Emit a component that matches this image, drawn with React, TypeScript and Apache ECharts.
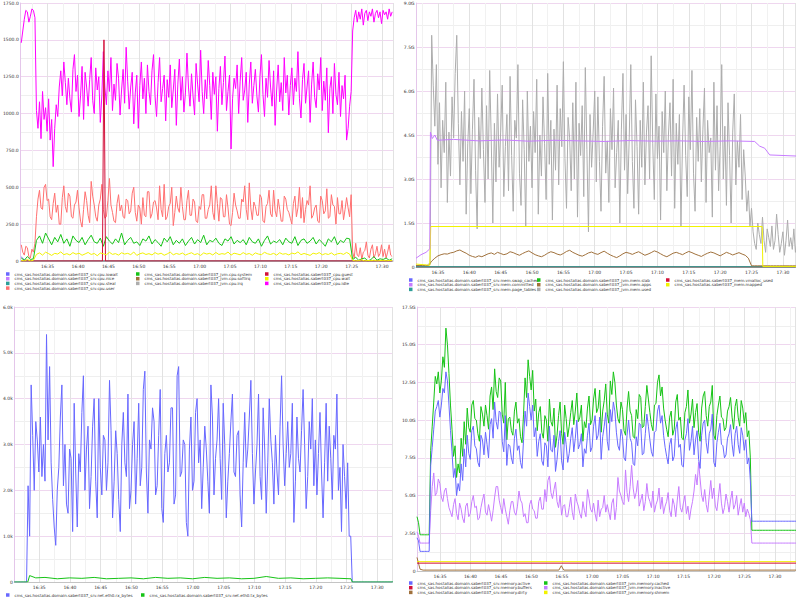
import React, { useEffect, useRef } from "react";
import * as echarts from "echarts";

// time in minutes since midnight
const tm = (h: number, m: number, s: number) => h * 60 + m + s / 60;

// ---------- Top-left panel (CPU %) ----------
const tlStart = tm(16, 30, 40);
const tlMin = tm(16, 30, 30);
const tlMax = tm(17, 31, 48);
const tlYTicks = { max: 1750, interval: 250 };
// 15 s samples
const tlMagenta = [1480, 1560, 1640, 1700, 1690, 1620, 1660, 1710, 1700, 1650,
  1020,
  900, 1080, 830, 1150, 960, 1040, 880, 1100, 820, 960,
  640, 900, 1060, 980, 1180, 1290, 1120, 1350, 1210, 1060,
  1240, 1100, 1010, 1300, 1400, 1150, 1260, 980, 1120, 1320,
  960, 1280, 1180, 1050, 1230, 1380, 1090, 1000, 1310, 1160,
  1250, 940, 1120, 1420, 1180, 1060, 1290, 1150, 1380, 1020,
  1200, 1090, 1340, 1240, 990, 1160, 1300, 1070, 1450, 1220,
  1030, 1180, 1280, 930, 1140, 1260, 900, 1190, 1350, 1100,
  1240, 1000, 1330, 1150, 1060, 1290, 1400, 1120, 980, 1210,
  1380, 1080, 1170, 1260, 950, 1230, 1110, 1330, 1040, 1160,
  1300, 920, 1200, 1370, 1090, 1250, 1010, 1140, 1410, 1180,
  1050, 1270, 1120, 990, 1340, 1200, 1080, 1430, 1150, 1000,
  1230, 1100, 1360, 1190, 960, 1280, 1130, 1250, 880, 1170,
  1320, 1060, 1210, 1390, 1020, 1150, 1260, 760, 1100, 1240,
  1170, 1330, 1000, 1220, 1380, 1090, 1160, 1280, 940, 1200,
  1350, 1070, 1190, 1300, 1120, 1010, 1250, 1400, 1130, 980,
  1240, 1110, 1360, 1180, 1050, 1290, 920, 1160, 1330, 1080,
  1210, 1020, 1380, 1140, 1260, 990, 1190, 1310, 1060, 1240,
  1150, 1420, 1100, 970, 1230, 1340, 1070, 1180, 1290, 940,
  1200, 1350, 1110, 1040, 1270, 1160, 1380, 1020, 1220, 1090,
  1310, 870, 1170, 1250, 1000, 1340, 1130, 1060, 1280, 980,
  1190, 1100, 1260, 820, 900, 1050, 1150,
  1560, 1650, 1700, 1620, 1690, 1640, 1710, 1600, 1680, 1700,
  1630, 1690, 1660, 1710, 1620, 1680, 1700, 1650, 1690, 1610,
  1700, 1670, 1690, 1640, 1710, 1660, 1690];
const tlSalmon = [110, 60, 40, 100, 90, 30, 20, 80, 60, 120,
  300, 420, 480, 360, 350, 500, 520, 410, 420, 300,
  280, 390, 460, 330, 380, 250, 250, 430, 510, 370,
  330, 460, 440, 300, 290, 380, 400, 480, 360, 270,
  230, 350, 470, 410, 310, 260, 540, 440, 380, 300,
  270, 380, 420, 520, 350, 290, 300, 410, 560, 380,
  330, 270, 260, 390, 450, 340, 380, 300, 290, 420,
  410, 320, 340, 460, 500, 330, 270, 380, 360, 250,
  430, 310, 300, 470, 470, 290, 320, 400, 410, 360,
  280, 510, 350, 300, 520, 280, 300, 370, 390, 500,
  240, 330, 440, 360, 330, 500, 370, 280, 280, 410,
  480, 310, 310, 420, 400, 270, 260, 370, 350, 450,
  450, 290, 290, 350, 380, 510, 330, 280, 510, 390,
  270, 430, 420, 300, 300, 450, 360, 250, 240, 330,
  460, 380, 340, 290, 290, 420, 400, 510, 350, 280,
  530, 360, 280, 400, 370, 310, 310, 450, 430, 270,
  260, 370, 390, 480, 320, 300, 480, 340, 300, 420,
  350, 270, 270, 440, 420, 350, 330, 290, 250, 390,
  440, 300, 360, 500, 290, 430, 260, 350, 410, 380,
  510, 290, 310, 360, 380, 270, 260, 440, 410, 320,
  340, 490, 290, 300, 450, 380, 370, 250, 430, 320,
  320, 410, 280, 350, 430, 360, 300, 450,
  60, 20, 120, 40, 30, 90, 10, 60, 70, 130,
  40, 20, 80, 110, 20, 50, 100, 30, 50, 110,
  30, 80, 20, 60, 110, 40, 30];
// 30 s samples
const tlGreen = [20, 5, 30, 10, 15,
  140, 170, 120, 190, 150, 110, 160, 130, 180, 120,
  150, 100, 170, 140, 125, 160, 110, 145, 175, 130,
  120, 155, 100, 165, 135, 115, 150, 125, 190, 110,
  140, 160, 120, 130, 105, 150, 135, 170, 115, 145,
  125, 100, 155, 130, 165, 110, 140, 120, 150, 105,
  135, 160, 115, 145, 125, 175, 110, 140, 130, 155,
  120, 105, 150, 135, 165, 115, 140, 125, 145, 110,
  160, 130, 120, 150, 100, 140, 170, 115, 135, 125,
  145, 110, 155, 130, 120, 165, 105, 140, 150, 120,
  135, 160, 115, 145, 125, 100, 150, 130, 165, 110,
  140, 125, 155, 150,
  10, 25, 5, 15, 20, 0, 10, 30, 5, 15, 10, 20, 5, 15];
const tlYellow = [5, 0, 10, 0, 5,
  45, 55, 40, 60, 50, 38, 52, 47, 62, 43,
  50, 41, 57, 46, 53, 39, 48, 58, 44, 51,
  36, 54, 49, 42, 59, 45, 50, 40, 56, 47,
  52, 43, 61, 38, 49, 55, 44, 50, 41, 57,
  46, 53, 39, 48, 60, 42, 51, 45, 54, 40,
  49, 56, 43, 50, 38, 55, 47, 52, 41, 58,
  44, 50, 46, 61, 40, 53, 48, 42, 57, 45,
  51, 39, 55, 47, 43, 59, 49, 44, 52, 40,
  56, 46, 50, 41, 54, 48, 62, 43, 51, 45,
  38, 53, 47, 57, 42, 50, 44, 55, 40, 49,
  52, 45, 58, 47,
  5, 0, 3, 8, 0, 4, 2, 6, 0, 3, 5, 1, 4, 2];
// [minutes from panel start, value]
const tlBlue = [[0, 28], [0.5, 8], [1, 3], [61, 3]];
const tlZero = [[0, 0], [61, 0]];
const tlRed = [[0, 0], [13.35, 0], [13.6, 1500], [13.85, 0], [61, 0]];

// ---------- Top-right panel (G) ----------
const trStart = tm(16, 31, 30);
const trMin = tm(16, 31, 30);
const trMax = tm(17, 31, 56);
const trYTicks = { max: 9, interval: 1.5 };
// 15 s samples
const trGray = [0.05, 0.05, 0.06, 0.05, 0.08, 0.05, 0.06, 0.05, 0.1, 0.08,
  7.9, 6.2, 4.8, 6.9, 3.5, 5.6, 2.7, 5.0, 3.9, 6.3,
  2.2, 4.6, 3.1, 5.8, 4.4, 6.6, 7.9, 4.9, 2.8, 5.3,
  3.6, 6.0, 1.8, 4.2, 5.4, 2.5, 4.7, 6.4, 3.3, 1.3,
  5.1, 3.7, 6.1, 4.0, 2.2, 5.5, 3.0, 6.7, 4.3, 1.5,
  4.9, 2.9, 5.9, 3.4, 4.6, 6.2, 2.4, 4.1, 5.2, 2.6,
  6.5, 3.8, 1.9, 5.0, 4.4, 6.9, 3.2, 2.1, 5.7, 4.0,
  1.4, 6.0, 3.6, 4.8, 2.7, 5.3, 3.9, 6.4, 1.8, 4.5,
  3.1, 5.8, 4.2, 2.3, 6.6, 3.5, 5.0, 1.6, 4.7, 3.3,
  6.2, 2.8, 5.4, 4.1, 7.0, 3.7, 2.0, 5.1, 4.4, 2.6,
  5.6, 3.0, 6.3, 1.7, 4.9, 3.8, 5.5, 2.4, 6.8, 4.0,
  1.2, 5.2, 3.4, 4.6, 6.0, 2.9, 5.8, 3.6, 1.9, 4.8,
  6.5, 3.2, 4.3, 2.2, 5.4, 4.0, 6.1, 2.7, 3.9, 5.0,
  1.5, 4.7, 6.6, 3.3, 5.2, 2.5, 4.4, 6.9, 3.6, 2.0,
  5.7, 4.1, 1.8, 5.0, 3.4, 6.3, 2.8, 4.6, 5.5, 3.0,
  7.2, 4.2, 2.3, 5.9, 3.7, 4.8, 1.6, 5.3, 3.9, 6.0,
  2.6, 4.5, 5.6, 3.1, 6.4, 2.0, 4.9, 3.5, 5.2, 1.4,
  4.3, 6.2, 3.8, 2.4, 5.8, 4.0, 6.7, 3.2, 1.9, 5.1,
  3.6, 5.4, 2.9, 4.7, 6.1, 2.2, 5.0, 3.9, 4.4, 1.7,
  6.3, 3.3, 5.5, 2.6, 4.1, 6.9, 3.0, 4.8, 2.1, 5.6,
  3.8, 1.5, 4.6, 5.9, 2.8, 4.3, 3.4, 5.2, 2.3, 4.0,
  3.1, 1.9, 2.6, 1.4, 2.0,
  1.2, 0.8, 0.6, 1.5, 1.1, 0.8, 1.7, 0.9, 0.5, 1.3,
  1.0, 0.7, 1.4, 0.6, 0.9, 1.8, 1.1, 0.5, 0.8, 1.2,
  0.4, 0.9, 1.6, 0.7, 1.0, 0.6, 1.3, 0.5, 0.9, 0.7];
// 30 s samples
const trBrown = [0.05, 0.05, 0.05, 0.05, 0.05,
  0.20, 0.30, 0.38, 0.42, 0.45, 0.44, 0.48, 0.50, 0.55, 0.58,
  0.52, 0.47, 0.40, 0.36, 0.33, 0.38, 0.35, 0.40, 0.45, 0.48,
  0.43, 0.50, 0.46, 0.42, 0.45, 0.52, 0.49, 0.44, 0.40, 0.46,
  0.51, 0.55, 0.48, 0.42, 0.38, 0.35, 0.40, 0.47, 0.52, 0.49,
  0.44, 0.41, 0.46, 0.53, 0.57, 0.50, 0.45, 0.40, 0.37, 0.42,
  0.48, 0.51, 0.46, 0.43, 0.49, 0.54, 0.47, 0.41, 0.36, 0.32,
  0.38, 0.45, 0.50, 0.47, 0.43, 0.48, 0.52, 0.46, 0.40, 0.44,
  0.49, 0.55, 0.51, 0.45, 0.39, 0.35, 0.41, 0.47, 0.50, 0.46,
  0.42, 0.48, 0.53, 0.49, 0.44, 0.40, 0.36, 0.42, 0.47, 0.51,
  0.48, 0.43, 0.38, 0.44, 0.50, 0.46, 0.41, 0.45, 0.49, 0.44,
  0.40, 0.30,
  0.04, 0.04, 0.04, 0.04, 0.04, 0.04, 0.04, 0.04, 0.04, 0.04, 0.04, 0.04, 0.04, 0.04, 0.04, 0.04];
const trPurple = [[0, 0.3], [0.8, 0.42], [1.6, 0.5], [2.2, 0.62], [2.3, 4.6], [2.6, 4.38], [3.0, 4.5], [3.4, 4.32],
  [6, 4.35], [10, 4.3], [14, 4.33], [18, 4.29], [22, 4.32], [26, 4.3], [30, 4.28], [34, 4.31], [38, 4.29],
  [42, 4.3], [46, 4.28], [50, 4.3], [54, 4.28], [54.8, 4.12], [55.6, 4.05], [56.4, 3.82], [61, 3.78]];
const trYellow = [[0, 0.1], [2.2, 0.06], [2.35, 1.38], [55.2, 1.38], [55.3, 0.02], [61, 0.02]];
const trTeal = [[0, 0.01], [61, 0.01]];
const trZero = [[0, 0], [61, 0]];

// ---------- Bottom-left panel (k) ----------
const blStart = tm(16, 30, 56);
const blMin = tm(16, 30, 56);
const blMax = tm(17, 32, 24);
const blYTicks = { max: 6, interval: 1 };
// 15 s samples
const blBlue = [0, 0, 0, 0, 0, 0, 0, 0, 0,
  2.1, 1.0, 4.3, 3.2, 2.0, 3.5, 3.1, 2.4, 3.6, 2.3,
  3.0, 2.2, 5.4, 3.1, 4.7, 2.6, 1.8, 1.2, 0.8, 2.0,
  2.5, 3.6, 4.3, 2.1, 3.0, 1.7, 1.5, 2.9, 2.7, 1.1,
  3.9, 2.4, 1.2, 2.8, 2.4, 3.7, 4.5, 2.0, 2.9, 3.4,
  1.6, 2.3, 3.4, 4.0, 2.2, 1.4, 4.0, 2.5, 1.9, 3.2,
  3.1, 2.0, 2.6, 4.4, 3.3, 1.4, 2.2, 3.3, 2.8, 1.8,
  1.1, 3.0, 3.7, 2.6, 2.3, 4.1, 1.6, 2.0, 3.0, 3.5,
  1.7, 2.7, 3.9, 2.1, 2.5, 4.2, 4.6, 2.4, 1.5, 3.1,
  2.9, 3.8, 3.5, 1.9, 2.1, 3.2, 4.2, 1.6, 1.3, 2.8,
  3.2, 2.4, 2.6, 3.8, 3.8, 1.7, 1.9, 4.5, 4.7, 2.3,
  2.4, 3.1, 3.0, 1.3, 1.0, 2.9, 3.6, 2.0, 2.2, 3.7,
  4.0, 2.6, 3.1, 1.6, 2.5, 3.4, 2.9, 2.2, 1.5, 4.3,
  3.6, 1.9, 2.7, 3.1, 4.0, 2.7, 1.8, 3.9, 3.0, 1.4,
  2.2, 2.8, 3.5, 4.1, 2.4, 2.3, 3.2, 3.3, 1.9, 1.2,
  2.6, 3.7, 2.5, 2.9, 3.6, 4.4, 2.8, 1.7, 2.4, 3.0,
  4.1, 2.3, 1.8, 3.8, 2.9, 1.5, 2.6, 4.0, 3.1, 2.6,
  1.7, 3.2, 2.4, 1.9, 3.4, 4.5, 3.0, 2.1, 2.8, 3.5,
  2.5, 2.8, 3.9, 1.3, 2.2, 3.6, 2.7, 2.4, 3.3, 4.2,
  3.0, 1.6, 2.3, 3.5, 2.9, 4.0, 2.1, 3.1, 1.9, 2.8,
  3.7, 2.4, 1.4, 2.6, 3.9, 2.2, 3.4, 2.7, 1.8, 3.2,
  2.9, 4.1, 2.0, 2.5, 1.1, 3.0, 2.3, 1.6, 2.6, 1.0,
  1.0,
  0, 0, 0, 0, 0, 0, 0, 0, 0, 0, 0, 0, 0, 0, 0,
  0, 0, 0, 0, 0, 0, 0, 0, 0, 0, 0, 0, 0, 0, 0];
const blGreen = [[0, 0], [2.2, 0], [2.5, 0.14], [3.5, 0.09], [5, 0.1], [7, 0.07], [9, 0.09], [11, 0.08], [13, 0.1],
  [15, 0.07], [17, 0.08], [19, 0.09], [21, 0.07], [23, 0.1], [25, 0.08], [27, 0.09], [29, 0.07], [31, 0.1],
  [33, 0.08], [35, 0.09], [37, 0.07], [39, 0.08], [41, 0.12], [43, 0.08], [45, 0.09], [47, 0.07], [49, 0.08],
  [51, 0.09], [53, 0.08], [54.8, 0.07], [55, 0], [62, 0]];

// ---------- Bottom-right panel (G) ----------
const brStart = tm(16, 31, 13);
const brMin = tm(16, 31, 13);
const brMax = tm(17, 33, 18);
const brYTicks = { max: 17.5, interval: 2.5 };
// 15 s samples
const brGreen = [3.6, 3.2, 2.4, 2.4, 2.4, 2.4, 2.4, 2.4, 2.4,
  8.0, 9.6, 11.2, 12.9, 12.4, 13.2, 11.8, 12.6, 14.2, 13.5,
  16.1, 15.0, 13.1, 11.0, 9.4, 7.6, 8.3, 6.2, 7.1, 6.5,
  8.8, 7.6, 9.9, 8.4, 10.8, 9.5, 9.2, 11.0, 11.3, 10.1,
  10.0, 9.1, 8.6, 10.9, 10.4, 9.6, 11.0, 10.3, 9.4, 11.6,
  12.2, 10.7, 13.4, 11.9, 11.5, 12.8, 12.6, 10.4, 9.8, 12.5,
  8.7, 10.1, 10.2, 9.3, 9.0, 10.6, 11.2, 9.8, 10.1, 8.9,
  8.5, 10.4, 12.8, 11.5, 14.0, 12.9, 12.0, 13.3, 10.6, 11.4,
  9.3, 10.5, 10.9, 9.2, 8.8, 10.3, 10.0, 8.6, 11.4, 9.9,
  9.6, 10.8, 8.2, 9.0, 10.3, 11.2, 9.1, 8.4, 11.0, 10.1,
  8.9, 9.6, 10.5, 11.3, 9.7, 10.6, 11.8, 9.9, 10.2, 11.0,
  8.6, 9.9, 9.5, 10.8, 11.6, 9.7, 10.0, 11.4, 12.1, 10.5,
  10.8, 12.0, 9.2, 10.6, 11.3, 12.4, 10.4, 9.8, 12.6, 11.7,
  13.2, 12.5, 11.0, 10.1, 9.8, 11.2, 10.7, 9.3, 9.0, 10.8,
  11.9, 10.6, 10.3, 8.9, 8.8, 10.7, 10.1, 11.7, 11.5, 9.5,
  9.6, 10.9, 12.3, 11.4, 10.5, 9.7, 9.3, 11.0, 11.1, 12.5,
  13.0, 11.6, 12.2, 10.8, 10.0, 9.4, 8.9, 10.2, 10.6, 9.0,
  9.4, 11.2, 11.7, 10.0, 10.2, 8.8, 8.7, 10.5, 10.9, 12.0,
  9.8, 10.4, 11.4, 9.5, 10.5, 11.1, 9.2, 8.6, 10.8, 11.6,
  11.9, 10.3, 9.6, 10.9, 11.2, 12.3, 9.0, 8.7, 10.3, 11.0,
  11.6, 10.2, 10.1, 9.3, 9.5, 10.6, 10.9, 11.5, 10.2, 9.4,
  10.9, 11.4, 10.2, 9.6, 11.3, 10.8, 9.8, 10.5, 8.9, 9.3,
  7.5,
  2.7, 2.7, 2.7, 2.7, 2.7, 2.7, 2.7, 2.7, 2.7, 2.7, 2.7, 2.7, 2.7, 2.7, 2.7, 2.7,
  2.7, 2.7, 2.7, 2.7, 2.7, 2.7, 2.7, 2.7, 2.7, 2.7, 2.7, 2.7, 2.7, 2.7, 2.7, 2.7];
const brBlue = [2.2, 2.0, 1.3, 1.3, 1.3, 1.3, 1.3, 1.3, 1.3,
  7.0, 8.2, 9.4, 10.6, 10.9, 11.3, 10.2, 11.0, 12.1, 11.8,
  13.2, 12.6, 11.0, 9.3, 7.9, 6.2, 6.8, 5.0, 5.8, 5.3,
  7.1, 6.0, 8.1, 6.9, 9.0, 7.8, 7.4, 9.3, 9.6, 8.3,
  8.1, 7.2, 6.9, 9.0, 8.7, 7.7, 9.2, 8.4, 7.5, 9.7,
  10.1, 8.8, 11.2, 9.9, 9.4, 10.6, 10.5, 8.6, 7.9, 10.3,
  7.0, 8.4, 8.3, 7.5, 7.1, 8.8, 9.4, 8.0, 8.3, 7.2,
  6.8, 8.7, 10.6, 9.6, 11.8, 10.9, 10.0, 11.0, 8.9, 9.5,
  7.6, 8.6, 9.1, 7.3, 7.0, 8.5, 8.3, 6.9, 9.6, 8.0,
  7.9, 9.0, 6.6, 7.4, 8.6, 9.3, 7.3, 6.7, 9.2, 8.4,
  7.2, 7.8, 8.8, 9.5, 7.9, 8.8, 10.0, 8.1, 8.4, 9.1,
  6.9, 8.1, 7.8, 9.0, 9.8, 7.9, 8.2, 9.6, 10.3, 8.7,
  9.0, 10.2, 7.4, 8.9, 9.6, 10.5, 8.6, 8.0, 10.7, 9.9,
  11.2, 10.6, 9.2, 8.3, 8.0, 9.4, 8.9, 7.5, 7.3, 9.0,
  10.0, 8.8, 8.5, 7.1, 7.0, 8.9, 8.3, 9.8, 9.7, 7.7,
  7.8, 9.1, 10.4, 9.6, 8.7, 7.9, 7.6, 9.2, 9.3, 10.6,
  11.0, 9.8, 10.3, 9.0, 8.2, 7.6, 7.1, 8.4, 8.8, 7.3,
  7.6, 9.4, 9.9, 8.2, 8.4, 7.0, 6.9, 8.7, 9.1, 10.1,
  8.0, 8.6, 9.6, 7.7, 8.7, 9.3, 7.4, 6.8, 9.0, 9.8,
  10.0, 8.5, 7.8, 9.1, 9.4, 10.4, 7.2, 6.9, 8.5, 9.2,
  9.8, 8.4, 8.3, 7.5, 7.7, 8.8, 9.1, 9.7, 8.4, 7.6,
  9.1, 9.6, 8.4, 7.8, 9.5, 9.0, 8.0, 8.7, 7.1, 7.5,
  6.0,
  3.3, 3.3, 3.3, 3.3, 3.3, 3.3, 3.3, 3.3, 3.3, 3.3, 3.3, 3.3, 3.3, 3.3, 3.3, 3.3,
  3.3, 3.3, 3.3, 3.3, 3.3, 3.3, 3.3, 3.3, 3.3, 3.3, 3.3, 3.3, 3.3, 3.3, 3.3, 3.3];
const brPurple = [2.6, 2.3, 1.85, 1.85, 1.85, 1.85, 1.85, 1.85, 1.85,
  4.0, 5.6, 6.5, 5.0, 5.2, 6.1, 5.8, 4.9, 4.6, 5.3,
  5.5, 4.8, 4.2, 3.9, 3.6, 4.4, 4.8, 3.8, 3.4, 4.5,
  4.1, 3.5, 3.2, 4.3, 4.5, 3.6, 3.8, 4.6, 5.0, 4.2,
  4.3, 3.4, 3.5, 4.2, 4.7, 5.1, 3.9, 3.7, 4.4, 3.9,
  3.3, 4.0, 4.9, 5.6, 5.6, 4.7, 4.2, 3.8, 4.8, 4.1,
  3.6, 3.1, 4.0, 4.6, 4.6, 3.9, 3.7, 4.3, 5.3, 4.7,
  4.5, 3.6, 3.8, 3.2, 3.2, 4.4, 4.7, 4.1, 4.0, 3.5,
  3.5, 4.6, 4.9, 4.1, 4.1, 5.4, 4.6, 6.0, 6.3, 5.2,
  4.8, 5.4, 5.9, 4.6, 4.2, 5.0, 3.7, 4.3, 4.4, 3.6,
  3.6, 4.2, 4.9, 3.9, 3.4, 5.1, 4.6, 4.3, 3.8, 3.5,
  4.6, 4.0, 3.6, 5.4, 4.8, 4.1, 3.9, 4.5, 3.8, 3.3,
  4.7, 3.6, 4.1, 4.2, 5.0, 3.9, 4.4, 3.9, 3.4, 4.5,
  4.8, 3.4, 4.2, 6.2, 5.3, 5.0, 4.6, 4.4, 6.7, 5.2,
  4.6, 5.6, 7.0, 5.5, 4.8, 5.2, 6.0, 4.3, 4.7, 5.1,
  4.0, 4.6, 5.8, 4.9, 4.6, 4.2, 5.3, 3.9, 4.4, 4.7,
  5.5, 4.1, 4.9, 3.8, 4.3, 4.6, 5.2, 4.0, 3.6, 4.8,
  4.4, 3.6, 4.7, 5.6, 4.2, 3.9, 4.5, 5.0, 3.8, 4.3,
  3.4, 4.1, 4.6, 5.3, 6.4, 5.7, 7.2, 6.1, 5.0, 4.6,
  5.4, 4.4, 3.9, 5.0, 6.0, 4.8, 5.5, 4.3, 4.0, 4.9,
  5.8, 4.5, 3.8, 4.2, 5.1, 4.6, 3.9, 4.7, 5.3, 4.1,
  4.4, 5.0, 3.7, 4.3, 4.8, 3.9, 4.5, 3.6, 4.1, 3.8,
  3.4,
  1.85, 1.85, 1.85, 1.85, 1.85, 1.85, 1.85, 1.85, 1.85, 1.85, 1.85, 1.85, 1.85, 1.85, 1.85, 1.85,
  1.85, 1.85, 1.85, 1.85, 1.85, 1.85, 1.85, 1.85, 1.85, 1.85, 1.85, 1.85, 1.85, 1.85, 1.85, 1.85];
const brRed = [[0, 0.52], [63, 0.52]];
const brYellow = [[0, 0.62], [63, 0.62]];
const brBrown = [[0, 0.9], [0.5, 0.12], [1, 0.06], [23.3, 0.06], [23.7, 0.35], [24.1, 0.06], [63, 0.06]];

// ---------- names ----------
const tlNames = [
  "cms_sas.hostalias.domain.sabert037_srv.cpu.iowait",
  "cms_sas.hostalias.domain.sabert037_srv.cpu.nice",
  "cms_sas.hostalias.domain.sabert037_srv.cpu.steal",
  "cms_sas.hostalias.domain.sabert037_srv.cpu.user",
  "cms_sas.hostalias.domain.sabert037_jvm.cpu.system",
  "cms_sas.hostalias.domain.sabert037_jvm.cpu.softirq",
  "cms_sas.hostalias.domain.sabert037_jvm.cpu.irq",
  "cms_sas.hostalias.sabert037_cpu.guest",
  "cms_sas.hostalias.sabert037_cpu.wait",
  "cms_sas.hostalias.sabert037_cpu.idle",
];
const trNames = [
  "cms_sas.hostalias.domain.sabert037_srv.mem.swap_cached",
  "cms_sas.hostalias.domain.sabert037_srv.mem.committed",
  "cms_sas.hostalias.domain.sabert037_srv.mem.page_tables",
  "cms_sas.hostalias.domain.sabert037_jvm.mem.slab",
  "cms_sas.hostalias.domain.sabert037_jvm.mem.apps",
  "cms_sas.hostalias.domain.sabert037_jvm.mem.used",
  "cms_sas.hostalias.sabert037_mem.vmalloc_used",
  "cms_sas.hostalias.sabert037_mem.mapped",
];
const blNames = [
  "cms_sas.hostalias.domain.sabert037_srv.net.eth0.rx_bytes",
  "cms_sas.hostalias.domain.sabert037_srv.net.eth0.tx_bytes",
];
const brNames = [
  "cms_sas.hostalias.domain.sabert037_srv.memory.active",
  "cms_sas.hostalias.domain.sabert037_srv.memory.buffers",
  "cms_sas.hostalias.domain.sabert037_srv.memory.dirty",
  "cms_sas.hostalias.domain.sabert037_jvm.memory.cached",
  "cms_sas.hostalias.domain.sabert037_jvm.memory.inactive",
  "cms_sas.hostalias.domain.sabert037_jvm.memory.shmem",
];

const C = {
  blue: "#6868ff", purple: "#c77cff", teal: "#2e9e98", salmon: "#ff7070", green: "#16c316",
  brown: "#a0713c", gray: "#adadad", red: "#d3103a", yellow: "#f2f200", magenta: "#ff00ff",
};

const seq = (start: number, step: number, vals: number[]) => vals.map((v, i) => [start + i * step, v]);
const pts = (start: number, pairs: number[][]) => pairs.map(([m, v]) => [start + m, v]);
const Q = 0.25; // 15 s
const H = 0.5; // 30 s

const line = (name: string, color: string, g: number, data: number[][]) => ({
  type: "line", name, xAxisIndex: g, yAxisIndex: g, data, showSymbol: false, symbol: "none",
  lineStyle: { width: 1, color }, itemStyle: { color }, silent: true, clip: true,
  emphasis: { disabled: true }, animation: false,
});

const FONT = "DejaVu Sans";
const pad = (n: number) => (n < 10 ? "0" + n : "" + n);
const hhmm = (v: number) => {
  const t = Math.round(v);
  return pad(Math.floor(t / 60)) + ":" + pad(t % 60);
};

const xAxis = (g: number, min: number, max: number) => ({
  type: "value", gridIndex: g, min, max, minInterval: 5, maxInterval: 5, splitNumber: 12,
  axisLine: { show: true, onZero: false, lineStyle: { color: "#c4c4c4", width: 1 } },
  axisTick: { show: false },
  axisLabel: { fontSize: 4.5, color: "#333", margin: 3, formatter: hhmm, fontFamily: FONT,
    showMinLabel: false, showMaxLabel: false, hideOverlap: false },
  splitLine: { show: true, lineStyle: { color: "#e2e2e2", width: 1 } },
  minorTick: { show: false, splitNumber: 2 },
  minorSplitLine: { show: true, lineStyle: { color: "#f1f1f1", width: 1 } },
});

const yAxis = (g: number, t: { max: number; interval: number }, fmt: (v: number) => string) => ({
  type: "value", gridIndex: g, min: 0, max: t.max, interval: t.interval,
  axisLine: { show: true, lineStyle: { color: "#e4c6ea", width: 1 } },
  axisTick: { show: false },
  axisLabel: { fontSize: 4.5, color: "#333", margin: 1.5, formatter: fmt, fontFamily: FONT, showMaxLabel: true },
  splitLine: { show: true, lineStyle: { color: "#efd7ef", width: 1 } },
  minorTick: { show: false, splitNumber: 2 },
  minorSplitLine: { show: true, lineStyle: { color: "#efefef", width: 1 } },
});

const legend = (names: string[], left: number, top: number) => ({
  data: names, left, top, orient: "vertical", icon: "rect", itemWidth: 3.5, itemHeight: 3.5,
  itemGap: 0.7, padding: 0, selectedMode: false,
  textStyle: { fontSize: 4, lineHeight: 4, color: "#333", fontFamily: FONT },
});

export default function App() {
  const ref = useRef<HTMLDivElement>(null);
  useEffect(() => {
    const chart = echarts.init(ref.current!, null, { renderer: "svg" });
    const option = {
      animation: false,
      backgroundColor: "#ffffff",
      grid: [
        { left: 15, top: 3, width: 378, height: 258 },
        { left: 416, top: 3, width: 379, height: 264 },
        { left: 14, top: 307, width: 378, height: 275 },
        { left: 417, top: 307, width: 378, height: 264 },
      ],
      xAxis: [xAxis(0, tlMin, tlMax), xAxis(1, trMin, trMax), xAxis(2, blMin, blMax), xAxis(3, brMin, brMax)],
      yAxis: [
        yAxis(0, tlYTicks, (v: number) => (v === 0 ? "0" : v.toFixed(1))),
        yAxis(1, trYTicks, (v: number) => (v === 0 ? "0" : v.toFixed(1) + "G")),
        yAxis(2, blYTicks, (v: number) => (v === 0 ? "0" : v.toFixed(1) + "k")),
        yAxis(3, brYTicks, (v: number) => (v === 0 ? "0" : v.toFixed(1) + "G")),
      ],
      legend: [
        legend(tlNames.slice(0, 4), 6, 272),
        legend(tlNames.slice(4, 7), 136, 272),
        legend(tlNames.slice(7, 10), 265, 272),
        legend(trNames.slice(0, 3), 409, 278),
        legend(trNames.slice(3, 6), 537, 278),
        legend(trNames.slice(6, 8), 666, 278),
        legend(blNames.slice(0, 1), 6, 593),
        legend(blNames.slice(1, 2), 141, 593),
        legend(brNames.slice(0, 3), 409, 581),
        legend(brNames.slice(3, 6), 544, 581),
      ],
      series: [
        // top-left
        line(tlNames[0], C.blue, 0, pts(tlStart, tlBlue)),
        line(tlNames[1], C.purple, 0, pts(tlStart, tlZero)),
        line(tlNames[2], C.teal, 0, pts(tlStart, tlZero)),
        line(tlNames[3], C.salmon, 0, seq(tlStart, Q, tlSalmon)),
        line(tlNames[4], C.green, 0, seq(tlStart, H, tlGreen)),
        line(tlNames[5], C.brown, 0, pts(tlStart, tlZero)),
        line(tlNames[6], C.gray, 0, pts(tlStart, tlZero)),
        line(tlNames[9], C.magenta, 0, seq(tlStart, Q, tlMagenta)),
        line(tlNames[7], C.red, 0, pts(tlStart, tlRed)),
        line(tlNames[8], C.yellow, 0, seq(tlStart, H, tlYellow)),
        // top-right
        line(trNames[0], C.blue, 1, pts(trStart, trZero)),
        line(trNames[3], C.green, 1, pts(trStart, trZero)),
        line(trNames[6], C.red, 1, pts(trStart, trZero)),
        line(trNames[2], C.teal, 1, pts(trStart, trTeal)),
        line(trNames[5], C.gray, 1, seq(trStart, Q, trGray)),
        line(trNames[4], C.brown, 1, seq(trStart, H, trBrown)),
        line(trNames[7], C.yellow, 1, pts(trStart, trYellow)),
        line(trNames[1], C.purple, 1, pts(trStart, trPurple)),
        // bottom-left
        line(blNames[0], C.blue, 2, seq(blStart, Q, blBlue)),
        line(blNames[1], C.green, 2, pts(blStart, blGreen)),
        // bottom-right
        line(brNames[4], C.purple, 3, seq(brStart, Q, brPurple)),
        line(brNames[3], C.green, 3, seq(brStart, Q, brGreen)),
        line(brNames[0], C.blue, 3, seq(brStart, Q, brBlue)),
        line(brNames[2], C.brown, 3, pts(brStart, brBrown)),
        line(brNames[5], C.yellow, 3, pts(brStart, brYellow)),
        line(brNames[1], C.red, 3, pts(brStart, brRed)),
      ],
    };
    chart.setOption(option as any);
    return () => chart.dispose();
  }, []);
  return (
    <div
      ref={ref}
      style={{ position: "fixed", left: 0, top: 0, width: 798, height: 600, background: "#fff" }}
    />
  );
}
